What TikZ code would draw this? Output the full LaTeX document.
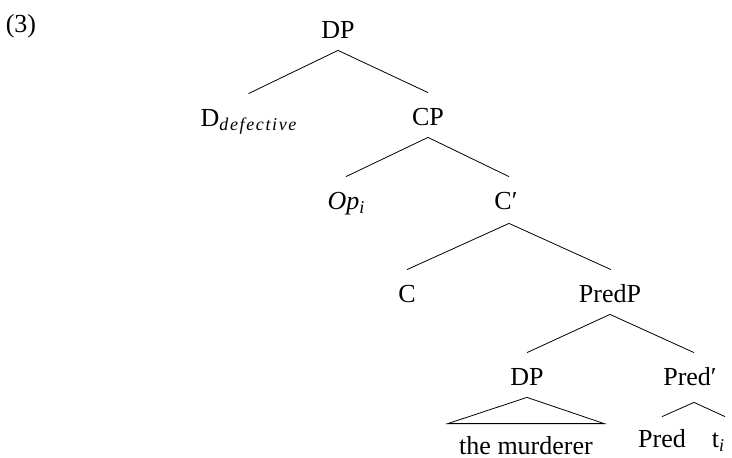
\documentclass[tikz,border=0pt]{standalone}
\usepackage{fontspec}
\setmainfont{Liberation Serif}
\newfontfamily\subfam[LetterSpace=9]{Liberation Serif}
\newcommand{\lowsub}[1]{\raisebox{-4pt}{\fontsize{18}{18}\selectfont #1}}
\begin{document}
\begin{tikzpicture}[x=1pt,y=-1pt,line width=0.8pt]
\tikzset{
  lab/.style={anchor=base, inner xsep=0pt, inner ysep=7pt, text height=25pt, text depth=5pt, font=\fontsize{26}{30}\selectfont},
  edge/.style={draw=black, line width=0.8pt}
}
\useasboundingbox (0,0) rectangle (732,458);
\node[lab] (ex) at (21,32) {(3)};
\node[lab] (dp) at (338,38) {DP};
\node[lab] (dd) at (248.5,126) {D\lowsub{\subfam\itshape defective}};
\node[lab] (cp) at (428,125) {CP};
\node[lab] (op) at (346,209) {\textit{Op}\lowsub{\itshape i}};
\node[lab] (cbar) at (506,209) {C′};
\node[lab] (c) at (407,302) {C};
\node[lab] (predp) at (610,302) {PredP};
\node[lab] (dp2) at (527,385) {DP};
\node[lab] (predbar) at (690,385) {Pred′};
\node[lab, inner xsep=11pt, inner ysep=0pt, text height=30pt, text depth=0pt] (tm) at (526,454) {the murderer};
\node[lab] (pred) at (662,447) {Pred};
\node[lab] (t) at (718,447) {t\lowsub{\itshape i}};
\draw[edge] (dd.north) -- (dp.south) -- (cp.north);
\draw[edge] (op.north) -- (cp.south) -- ([xshift=3pt]cbar.north);
\draw[edge] (c.north) -- ([xshift=3pt,yshift=-2pt]cbar.south) -- ([xshift=1pt]predp.north);
\draw[edge] (dp2.north) -- (predp.south) -- ([xshift=4pt]predbar.north);
\draw[edge] (dp2.south) -- (tm.north west) -- (tm.north east) -- cycle;
\draw[edge] ([yshift=-2pt]pred.north) -- ([xshift=4pt,yshift=-5pt]predbar.south) -- ([xshift=7pt,yshift=-2pt]t.north);
\end{tikzpicture}
\end{document}
